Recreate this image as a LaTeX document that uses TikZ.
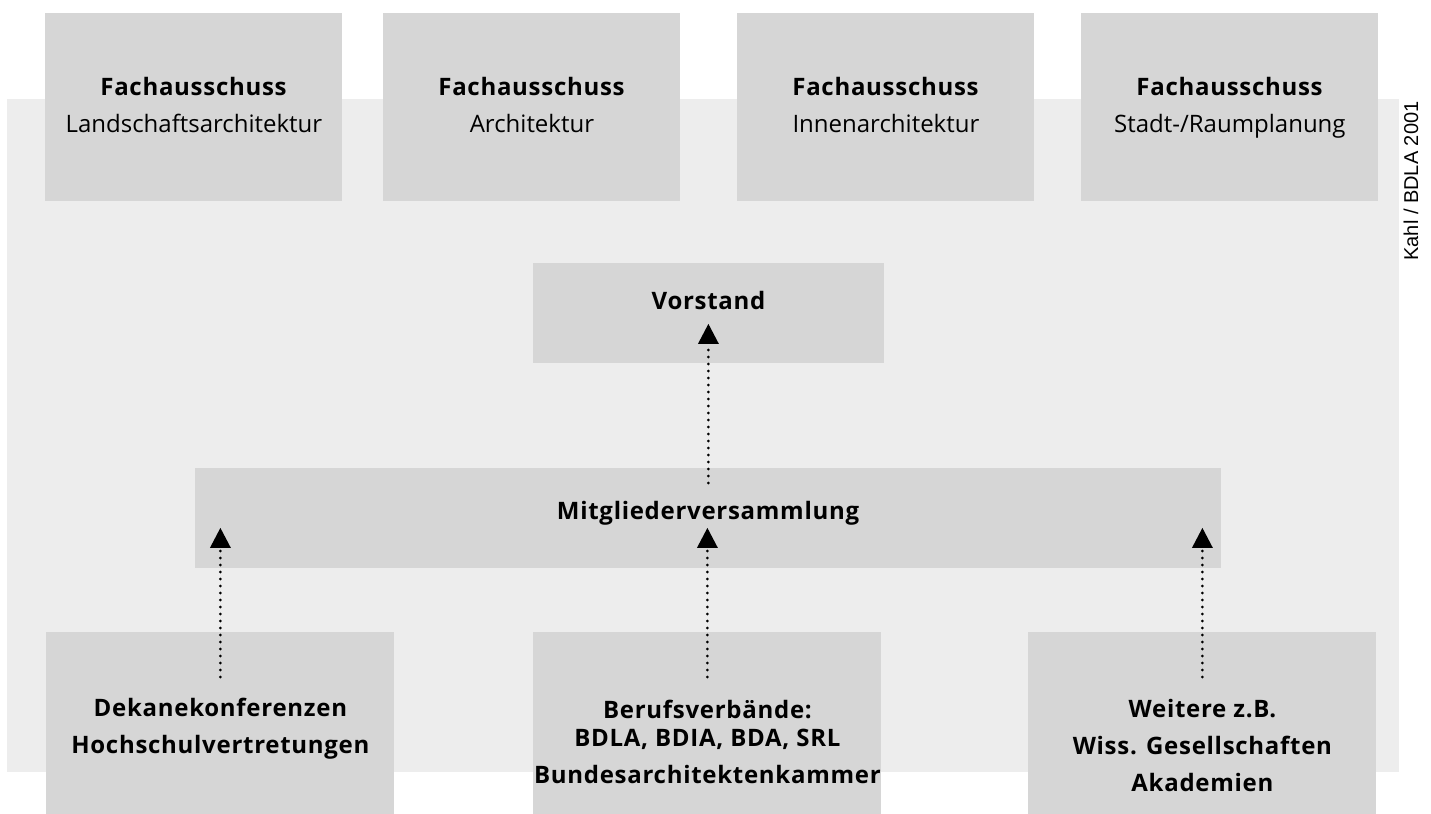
\documentclass[tikz,border=0pt]{standalone}
\usepackage{fontspec}
\setmainfont{Open Sans}[BoldFeatures={LetterSpace=3}]
\newfontfamily\creditfont{Liberation Sans}
\usetikzlibrary{arrows.meta,positioning,calc}
\definecolor{bggray}{RGB}{237,237,237}
\definecolor{boxgray}{RGB}{214,214,214}
\tikzset{
  box/.style={fill=boxgray, inner sep=0pt, align=center, anchor=north west,
    font=\fontsize{12}{18.5}\selectfont},
  topbox/.style={box, minimum width=148.5pt, text height=59.5pt, text depth=34.5pt},
  lowbox/.style={box, minimum width=174pt, font=\fontsize{12}{18.5}\selectfont\bfseries},
  dotarrow/.style={line width=1.5pt, line cap=round, dash pattern=on 0pt off 3.5pt,
    -{Triangle[width=10pt,length=10pt]}}
}
\begin{document}
\begin{tikzpicture}[x=0.5pt, y=-0.5pt]
\useasboundingbox (0,0) rectangle (1431,814);
\fill[bggray] (7,99) rectangle (1399,772);
% Fachausschuesse
\node[topbox] (fa1) at (45,13)   {\textbf{Fachausschuss}\\Landschaftsarchitektur};
\node[topbox] (fa2) at (383,13)  {\textbf{Fachausschuss}\\Architektur};
\node[topbox] (fa3) at (737,13)  {\textbf{Fachausschuss}\\Innenarchitektur};
\node[topbox] (fa4) at (1081,13) {\textbf{Fachausschuss}\\Stadt-/Raumplanung};
\node[box, minimum width=175.5pt, text height=23pt, text depth=27pt] (vorstand) at (533,263) {\textbf{Vorstand}};
\node[box, minimum width=513pt, text height=25.5pt, text depth=24.5pt] (mv) at (195,468) {\textbf{Mitgliederversammlung}};
\node[lowbox, text height=60.5pt, text depth=34.5pt] (dek) at (46,632) {Dekanekonferenzen\\Hochschulvertretungen};
\node[lowbox, text height=75.5pt, text depth=19.5pt] (bv) at (533,632) {Berufsverbände:\\[-4.5pt]BDLA, BDIA, BDA, SRL\\Bundesarchitektenkammer};
\node[lowbox, text height=79.5pt, text depth=15.5pt] (weitere) at (1028,632) {Weitere z.B.\\Wiss. Gesellschaften\\Akademien};
\node[rotate=90, font=\creditfont\fontsize{10}{12}\selectfont] (credit) at (1411,181) {Kahl / BDLA 2001};
\draw[dotarrow] ($(mv.north)+(0,-7.5pt)$) -- ($(mv.north |- vorstand.south)+(0,20pt)$);
\foreach \b in {dek,bv,weitere}
  \draw[dotarrow] ($(\b.north)+(0,-22.5pt)$) -- ($(\b.north |- mv.south)+(0,20.5pt)$);
\end{tikzpicture}
\end{document}
